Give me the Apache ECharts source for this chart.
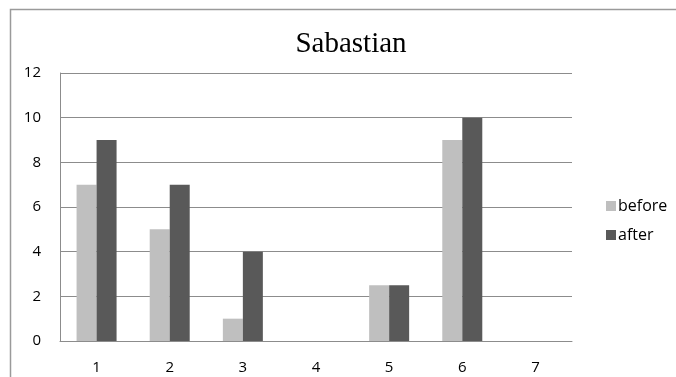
<!DOCTYPE html>
<html>
<head>
<meta charset="utf-8">
<script src="https://cdn.jsdelivr.net/npm/echarts@6/dist/echarts.min.js"></script>
<style>
  html, body { margin: 0; padding: 0; background: #fff; }
  #chart { width: 676px; height: 377px; }
</style>
</head>
<body>
<div id="chart"></div>
<script>
// Scores per session, before and after
const categories = ['1', '2', '3', '4', '5', '6', '7'];
const beforeValues = [7, 5, 1, 0, 2.5, 9, 0];
const afterValues = [9, 7, 4, 0, 2.5, 10, 0];
const yTicks = { min: 0, max: 12, interval: 2 };

const chart = echarts.init(document.getElementById('chart'));
const labelFont = 'Open Sans';

chart.setOption({
  animation: false,
  backgroundColor: '#ffffff',
  title: {
    text: 'Sabastian',
    left: 346,
    top: 25,
    textAlign: 'center',
    textStyle: { fontFamily: '"Liberation Serif", "DejaVu Serif", serif', fontSize: 29, fontWeight: 'normal', color: '#000' }
  },
  graphic: [{
    type: 'rect',
    shape: { x: 10.5, y: 9.5, width: 700, height: 400 },
    style: { fill: 'none', stroke: '#9a9a9a', lineWidth: 1.5 },
    silent: true
  }],
  legend: {
    orient: 'vertical',
    left: 601,
    top: 193,
    itemWidth: 10,
    itemHeight: 10,
    itemGap: 13,
    icon: 'rect',
    textStyle: { fontFamily: labelFont, fontSize: 16, color: '#000', padding: [0, 0, 0, -3] },
    data: ['before', 'after']
  },
  grid: { left: 60, right: 104, top: 73, bottom: 36 },
  xAxis: {
    type: 'category',
    data: categories,
    axisLine: { lineStyle: { color: '#8c8c8c', width: 1 } },
    axisTick: { show: false },
    axisLabel: { fontFamily: labelFont, fontSize: 15, color: '#000', margin: 19 }
  },
  yAxis: {
    type: 'value',
    min: yTicks.min,
    max: yTicks.max,
    interval: yTicks.interval,
    axisLine: { show: true, lineStyle: { color: '#8c8c8c', width: 1 } },
    axisTick: { show: false },
    splitLine: { lineStyle: { color: '#8c8c8c', width: 1 } },
    axisLabel: { fontFamily: labelFont, fontSize: 15, color: '#000', margin: 19 }
  },
  series: [
    {
      name: 'before',
      type: 'bar',
      data: beforeValues,
      barWidth: 20,
      barGap: '0%',
      itemStyle: { color: '#bfbfbf' }
    },
    {
      name: 'after',
      type: 'bar',
      data: afterValues,
      barWidth: 20,
      barGap: '0%',
      itemStyle: { color: '#595959' }
    }
  ]
});
</script>
</body>
</html>
